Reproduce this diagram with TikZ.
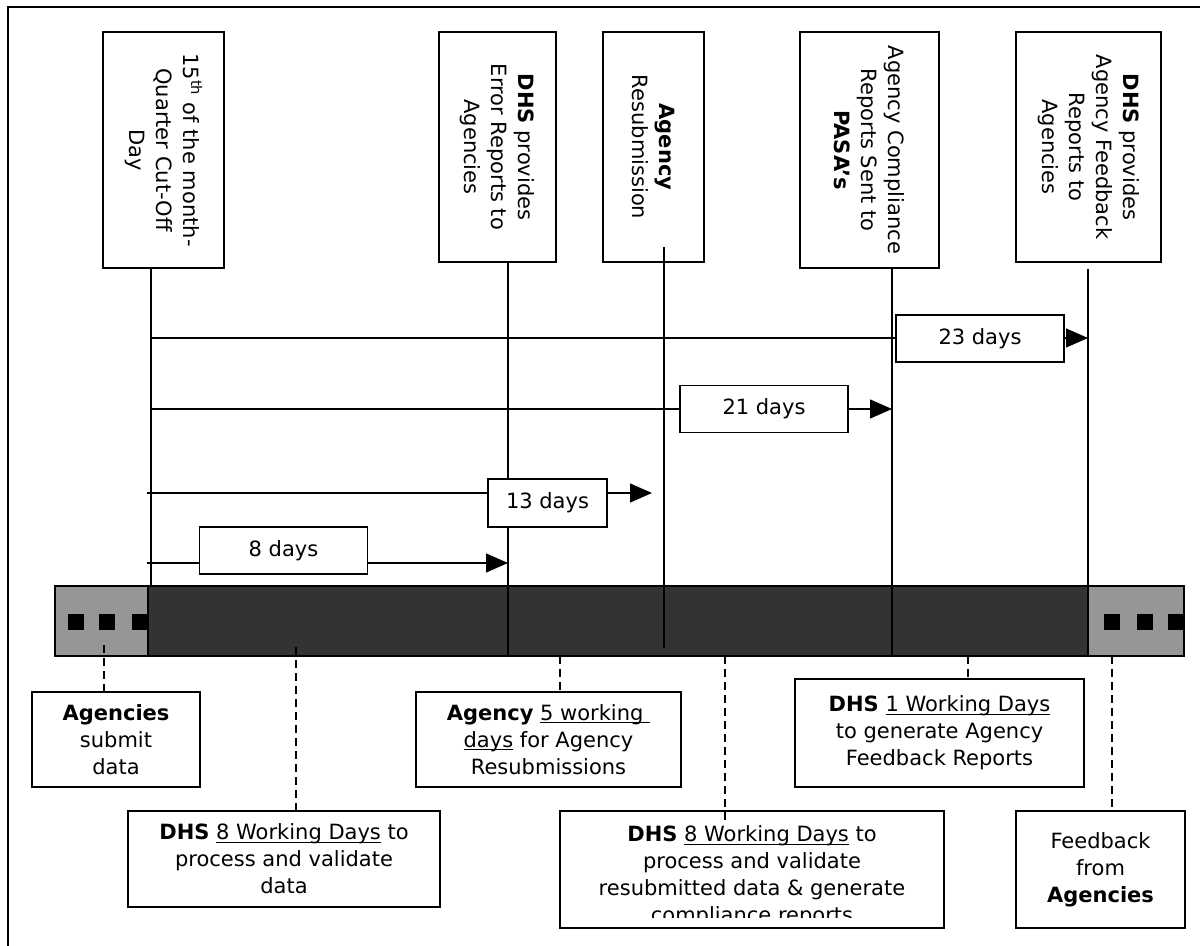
\documentclass[tikz,border=0pt]{standalone}
\usepackage{fontspec}
\setmainfont{DejaVu Sans}
\usetikzlibrary{arrows.meta}
\definecolor{barDark}{RGB}{51,51,51}
\definecolor{barGray}{RGB}{150,150,150}
\newcommand{\uln}[1]{\underline{\smash{#1}}}

\begin{document}
\begin{tikzpicture}[x=0.5pt,y=-0.5pt,
    every node/.style={font=\fontsize{10.5}{13.5}\selectfont, inner sep=1pt, align=center},
    event/.style={draw, rotate=-90, line width=0.6pt},
    note/.style={draw, fill=white, line width=0.6pt},
    daybox/.style={draw, fill=white, line width=0.6pt, minimum width=84pt, minimum height=23.5pt},
    arr/.style={-{Triangle[length=11pt,width=9.5pt]}, line width=0.6pt},
    dashline/.style={dash pattern=on 4pt off 2.5pt, line width=0.7pt}]
    \useasboundingbox (0,0) rectangle (1200,946);

    % Frame
    \draw[line width=0.7pt] (8,946) -- (8,7) -- (1200,7);

    % Timeline bar
    \draw[fill=barGray, line width=0.7pt] (55,586) rectangle (148,656);
    \draw[fill=barDark, line width=0.7pt] (148,586) rectangle (1088,656);
    \draw[fill=barGray, line width=0.7pt] (1088,586) rectangle (1184,656);
    \foreach \x in {68,99,132,1104,1137,1168}
        \fill (\x,614) rectangle ++(16,16);

    % Marks on the bar
    \coordinate (tCut) at (151,586);
    \coordinate (tErr) at (508,656);
    \coordinate (tResubTop) at (664,247);
    \coordinate (tResub) at (664,648);
    \coordinate (tPasa) at (892,656);
    \coordinate (tFeed) at (1088,656);

    % Event nodes
    \node[event, minimum width=118pt, minimum height=60.5pt] (cutoff) at (163.5,150)
        {15\textsuperscript{th} of the month-\\Quarter Cut-Off\\Day};
    \node[event, minimum width=115pt, minimum height=58.5pt] (errrep) at (497.5,147)
        {\textbf{DHS} provides\\Error Reports to\\Agencies};
    \node[event, minimum width=115pt, minimum height=50.5pt] (resub) at (653.5,147)
        {\textbf{Agency}\\Resubmission};
    \node[event, minimum width=118pt, minimum height=69.5pt] (pasa) at (869.5,150)
        {Agency Compliance\\Reports Sent to\\\textbf{PASA’s}};
    \node[event, minimum width=115pt, minimum height=72.5pt] (feedrep) at (1088.5,147)
        {\textbf{DHS} provides\\Agency Feedback\\Reports to\\Agencies};

    % Event lines
    \draw[line width=0.6pt] (cutoff.east -| tCut) -- (tCut);
    \draw[line width=0.6pt] (errrep.east -| tErr) -- (tErr);
    \draw[line width=0.6pt] (tResubTop) -- (tResub);
    \draw[line width=0.6pt] (pasa.east -| tPasa) -- (tPasa);
    \draw[line width=0.6pt, shorten <=3pt] (feedrep.east -| tFeed) -- (tFeed);

    % Durations
    \coordinate (a23) at (151,338);
    \coordinate (a21) at (151,409);
    \coordinate (a13) at (147,493);
    \coordinate (a8) at (147,563);
    \draw[arr] (a23) -- (a23 -| tFeed);
    \draw[arr] (a21) -- (a21 -| tPasa);
    \draw[arr, shorten >=6pt] (a13) -- (a13 -| tResub);
    \draw[arr] (a8) -- (a8 -| tErr);
    \node[daybox] (d23) at (980,338.5) {23 days};
    \node[daybox] (d21) at (764,409) {21 days};
    \node[daybox, minimum width=59.5pt, minimum height=24pt] (d13) at (547.5,503) {13 days};
    \node[daybox] (d8) at (283.5,550.5) {8 days};

    % Notes below the bar
    \node[note, minimum width=84pt, minimum height=47.5pt] (submit) at (116,739.5)
        {\textbf{Agencies}\\submit\\data};
    \node[note, minimum width=156pt, minimum height=48pt] (proc1) at (284,859)
        {\textbf{DHS} \uln{8 Working Days} to\\process and validate\\data};
    \node[note, minimum width=132.5pt, minimum height=47.5pt] (resubdays) at (548.5,739.5)
        {\textbf{Agency} \uln{5 working\ }\\\uln{days} for Agency\\Resubmissions};
    \node[note, minimum width=144.5pt, minimum height=54pt] (gen1) at (939.5,733)
        {\textbf{DHS} \uln{1 Working Days}\\to generate Agency\\Feedback Reports};
    \node[note, minimum width=84.5pt, minimum height=58.5pt] (feedback) at (1100.5,869.5)
        {Feedback\\from\\\textbf{Agencies}};
    \begin{scope}
        \clip (560,811) rectangle (944,917);
        \node[minimum width=192pt, minimum height=58.5pt] (proc2) at (752,876)
            {\textbf{DHS} \uln{8 Working Days} to\\process and validate\\resubmitted data \& generate\\compliance reports};
    \end{scope}
    \draw[line width=0.6pt] (560,811) rectangle (944,928);

    % Dashed leaders
    \coordinate (bSubmit) at (104,645);
    \coordinate (bProc1) at (296,647);
    \coordinate (bResub) at (560,656);
    \coordinate (bProc2) at (725,656);
    \coordinate (bGen1) at (968,656);
    \coordinate (bFeed) at (1112,656);
    \draw[dashline] (bSubmit) -- (bSubmit |- submit.north);
    \draw[dashline] (bProc1) -- (bProc1 |- proc1.north);
    \draw[dashline] (bResub) -- (bResub |- resubdays.north);
    \draw[dashline] (bProc2) -- ++(0,167);
    \draw[dashline] (bGen1) -- (bGen1 |- gen1.north);
    \draw[dashline] (bFeed) -- (bFeed |- feedback.north);
\end{tikzpicture}
\end{document}
